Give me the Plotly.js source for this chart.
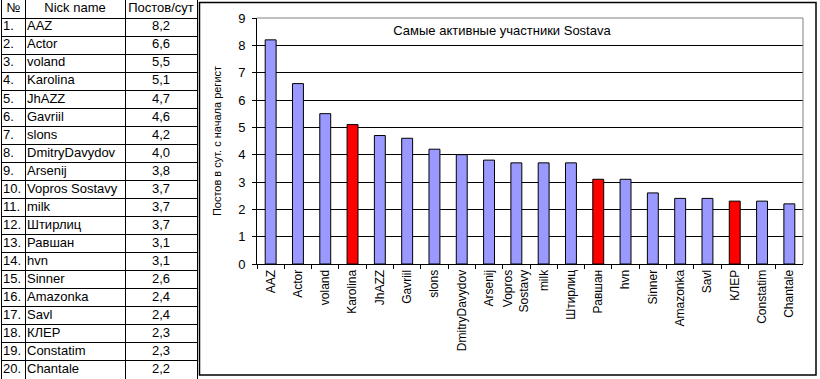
<!DOCTYPE html>
<html>
<head>
<meta charset="utf-8">
<script src="https://cdn.plot.ly/plotly-3.0.1.min.js"></script>
<style>html,body{margin:0;padding:0;background:#fff;}#chart{width:820px;height:379px;}</style>
</head>
<body>
<div id="chart"></div>
<script>
const names = ["AAZ","Actor","voland","Karolina","JhAZZ","Gavriil","slons","DmitryDavydov","Arsenij","Vopros Sostavy","milk","Штирлиц","Равшан","hvn","Sinner","Amazonka","Savl","КЛЕР","Constatim","Chantale"];
const tickLabels = ["AAZ","Actor","voland","Karolina","JhAZZ","Gavriil","slons","DmitryDavydov","Arsenij","Vopros<br>Sostavy","milk","Штирлиц","Равшан","hvn","Sinner","Amazonka","Savl","КЛЕР","Constatim","Chantale"];
const postsPerDay = [8.2,6.6,5.5,5.1,4.7,4.6,4.2,4.0,3.8,3.7,3.7,3.7,3.1,3.1,2.6,2.4,2.4,2.3,2.3,2.2];
const highlighted = ["Karolina","Равшан","КЛЕР"];
const tableHeader = ["№","Nick name","Постов/сут"];
const chartTitle = "Самые активные участники Sostava";
const yTitle = "Постов в сут. с начала регист";

const FONT = "Arial, 'Liberation Sans', sans-serif";
const W = 820, H = 379;
const px = v => v / W;
const py = v => 1 - v / H;

const barColors = names.map(n => highlighted.includes(n) ? "#FF0000" : "#9999FF");
const ranks = names.map((n, i) => (i + 1) + ".");
const valueText = postsPerDay.map(v => v.toFixed(1).replace(".", ","));

// table grid geometry (column borders in table-axis units = px)
const colEdges = [0, 23, 123, 195];
const nRows = names.length + 1;
const rowIdx = names.map((n, i) => i + 1.5);
const tfont = {family: FONT, size: 13, color: "#000"};

const headerText = {
  type: "scatter", mode: "text", xaxis: "x2", yaxis: "y2",
  x: [(colEdges[0] + colEdges[1]) / 2, (colEdges[1] + colEdges[2]) / 2, (colEdges[2] + colEdges[3]) / 2],
  y: [0.5, 0.5, 0.5],
  text: tableHeader, textposition: "middle center", textfont: tfont, hoverinfo: "skip"
};
const rankText = {
  type: "scatter", mode: "text", xaxis: "x2", yaxis: "y2",
  x: names.map(() => colEdges[0] + 1), y: rowIdx,
  text: ranks, textposition: "middle right", textfont: tfont, hoverinfo: "skip"
};
const nameText = {
  type: "scatter", mode: "text", xaxis: "x2", yaxis: "y2",
  x: names.map(() => colEdges[1] + 2), y: rowIdx,
  text: names, textposition: "middle right", textfont: tfont, hoverinfo: "skip"
};
const valText = {
  type: "scatter", mode: "text", xaxis: "x2", yaxis: "y2",
  x: names.map(() => (colEdges[2] + colEdges[3]) / 2), y: rowIdx,
  text: valueText, textposition: "middle center", textfont: tfont, hoverinfo: "skip"
};

const bars = {
  type: "bar",
  x: names,
  y: postsPerDay,
  width: 0.4,
  marker: {color: barColors, line: {color: "#000", width: 1}},
  hoverinfo: "x+y"
};

const layout = {
  width: W, height: H,
  margin: {l: 0, r: 0, t: 0, b: 0},
  paper_bgcolor: "#fff",
  plot_bgcolor: "rgba(0,0,0,0)",
  showlegend: false,
  font: {family: FONT, color: "#000"},
  title: {
    text: chartTitle,
    x: px(502), xref: "paper", xanchor: "center",
    y: py(30), yref: "paper", yanchor: "middle",
    font: {family: FONT, size: 13, color: "#000"}
  },
  xaxis: {
    domain: [px(257), px(803)],
    type: "category",
    tickmode: "array",
    tickvals: names,
    ticktext: tickLabels,
    tickangle: -90,
    ticks: "outside",
    tickson: "boundaries",
    ticklen: 4,
    tickcolor: "#000",
    showline: true,
    linecolor: "#000",
    linewidth: 1,
    showgrid: false,
    automargin: false,
    tickfont: {family: FONT, size: 12, color: "#000"}
  },
  yaxis: {
    domain: [py(264), py(18)],
    range: [0, 9],
    dtick: 1,
    ticks: "outside",
    ticklen: 4,
    tickcolor: "#000",
    showline: true,
    linecolor: "#000",
    linewidth: 1,
    showgrid: true,
    gridcolor: "#000",
    gridwidth: 1,
    zeroline: false,
    automargin: false,
    ticklabelstandoff: 4,
    tickfont: {family: FONT, size: 13, color: "#000"},
    title: {text: yTitle, standoff: 14, font: {family: FONT, size: 11, color: "#000"}}
  },
  xaxis2: {
    domain: [px(2), px(197)],
    range: [colEdges[0], colEdges[3]],
    anchor: "y2",
    tickmode: "array", tickvals: colEdges, showticklabels: false, ticks: "",
    showgrid: true, gridcolor: "#000", gridwidth: 1,
    zeroline: false, showline: true, mirror: true, linecolor: "#000", linewidth: 1,
    fixedrange: true, automargin: false
  },
  yaxis2: {
    domain: [0, 1],
    range: [nRows, 0],
    anchor: "x2",
    tickmode: "linear", tick0: 0, dtick: 1, showticklabels: false, ticks: "",
    showgrid: true, gridcolor: "#000", gridwidth: 1,
    zeroline: false, showline: true, mirror: true, linecolor: "#000", linewidth: 1,
    fixedrange: true, automargin: false
  },
  shapes: [
    {type: "rect", xref: "paper", yref: "paper", x0: px(199.5), x1: px(816), y0: py(375), y1: py(2.5),
     line: {color: "#000", width: 1.5}, fillcolor: "rgba(0,0,0,0)"},
    {type: "line", xref: "x domain", yref: "y domain", x0: 0, x1: 1, y0: 1, y1: 1,
     line: {color: "#808080", width: 1}, layer: "above"},
    {type: "line", xref: "x domain", yref: "y domain", x0: 1, x1: 1, y0: 0, y1: 1,
     line: {color: "#808080", width: 1}, layer: "above"}
  ]
};

Plotly.newPlot("chart", [bars, headerText, rankText, nameText, valText], layout, {staticPlot: true, displayModeBar: false});
</script>
</body>
</html>
